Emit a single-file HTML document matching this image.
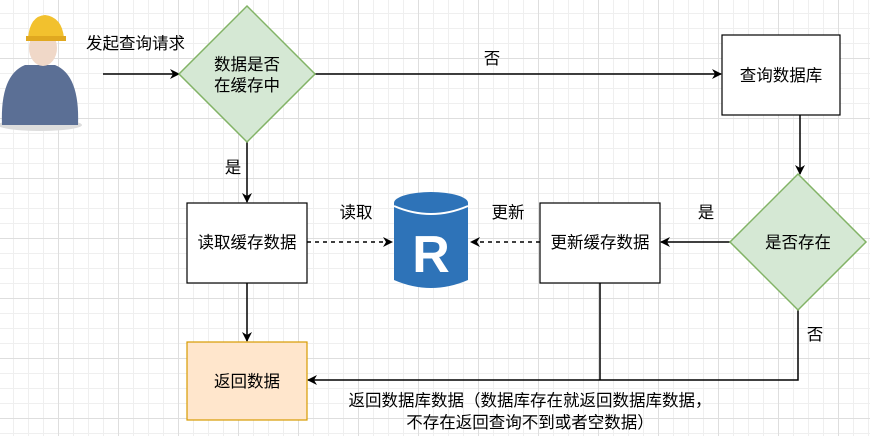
<!DOCTYPE html>
<html><head><meta charset="utf-8"><style>
body{margin:0;width:870px;height:436px;overflow:hidden;background:#fff;
background-image:linear-gradient(#dedede 1px,transparent 1px),linear-gradient(90deg,#dedede 1px,transparent 1px),linear-gradient(#efefef 1px,transparent 1px),linear-gradient(90deg,#efefef 1px,transparent 1px);
background-size:60px 60px,60px 60px,15px 15px,15px 15px;background-position:-2px -2px}
svg{position:absolute;left:0;top:0}
text{font-family:"Liberation Sans","Noto Sans CJK SC",sans-serif;font-size:16.5px;fill:#000}
</style></head><body>
<svg width="870" height="436" viewBox="0 0 870 436">
<defs><marker id="a" markerWidth="10" markerHeight="10" refX="9" refY="5" orient="auto" markerUnits="userSpaceOnUse"><path d="M0,0 L10,5 L0,10 L3,5 Z" fill="#000"/></marker></defs>
<!-- person -->
<ellipse cx="40" cy="125" rx="42" ry="6" fill="#ddd"/>
<path d="M2,125 Q0,75 25,65 L55,65 Q80,75 78,125 Z" fill="#5b6f95"/>
<ellipse cx="43" cy="48" rx="14" ry="18" fill="#f0d8c8"/>
<path d="M28,38 Q30,16 45,15 Q62,17 64,38 Z" fill="#f2c12e"/>
<rect x="26" y="36" width="40" height="5" fill="#e0a820"/>
<!-- lines -->
<g stroke="#000" stroke-width="1.5" fill="none">
<line x1="103" y1="74" x2="179" y2="74" marker-end="url(#a)"/>
<line x1="315" y1="74" x2="721" y2="74" marker-end="url(#a)"/>
<line x1="800" y1="115" x2="800" y2="174" marker-end="url(#a)"/>
<line x1="730" y1="242" x2="661" y2="242" marker-end="url(#a)"/>
<line x1="247" y1="142" x2="247" y2="202" marker-end="url(#a)"/>
<line x1="247" y1="283" x2="247" y2="341" marker-end="url(#a)"/>
<polyline points="798,310 798,380 308,380" marker-end="url(#a)"/>
<line x1="600" y1="283" x2="600" y2="380"/>
<line x1="540" y1="242" x2="471" y2="242" stroke-dasharray="4,4" marker-end="url(#a)"/>
<line x1="307" y1="242" x2="392" y2="242" stroke-dasharray="4,4" marker-end="url(#a)"/>
</g>
<polygon points="247,6 315,74 247,142 179,74" fill="#d5e8d4" stroke="#82b366" stroke-width="1.5"/>
<polygon points="798,174 866,242 798,310 730,242" fill="#d5e8d4" stroke="#82b366" stroke-width="1.5"/>
<rect x="722" y="35" width="118" height="80" fill="#fff" stroke="#000" stroke-width="1.2"/>
<rect x="540" y="203" width="120" height="80" fill="#fff" stroke="#000" stroke-width="1.2"/>
<rect x="187" y="203" width="120" height="80" fill="#fff" stroke="#000" stroke-width="1.2"/>
<rect x="187" y="342" width="120" height="78" fill="#ffe6cc" stroke="#d79b00" stroke-width="1.2"/>
<!-- cylinder -->
<path d="M394,203 L394,280 Q431,296 468,280 L468,203 Z" fill="#2e73b8"/>
<ellipse cx="431" cy="203" rx="37" ry="11" fill="#2e73b8"/>
<path d="M394,206 Q431,222 468,206" stroke="#fff" stroke-width="2" fill="none"/>
<text x="431" y="272" text-anchor="middle" style="font-size:52px;font-weight:bold;fill:#fff">R</text>
<!-- labels -->
<text x="86" y="49">发起查询请求</text>
<text x="247" y="70" text-anchor="middle">数据是否</text>
<text x="247" y="91" text-anchor="middle">在缓存中</text>
<text x="492" y="64" text-anchor="middle">否</text>
<text x="781" y="81" text-anchor="middle">查询数据库</text>
<text x="798" y="248" text-anchor="middle">是否存在</text>
<text x="706" y="218" text-anchor="middle">是</text>
<text x="600" y="248" text-anchor="middle">更新缓存数据</text>
<text x="508" y="218" text-anchor="middle">更新</text>
<text x="356" y="218" text-anchor="middle">读取</text>
<text x="247" y="248" text-anchor="middle">读取缓存数据</text>
<text x="233" y="173" text-anchor="middle">是</text>
<text x="247" y="387" text-anchor="middle">返回数据</text>
<text x="815" y="340" text-anchor="middle">否</text>
<text x="530" y="406" text-anchor="middle">返回数据库数据（数据库存在就返回数据库数据，</text>
<text x="530" y="428" text-anchor="middle">不存在返回查询不到或者空数据）</text>
</svg>
</body></html>
